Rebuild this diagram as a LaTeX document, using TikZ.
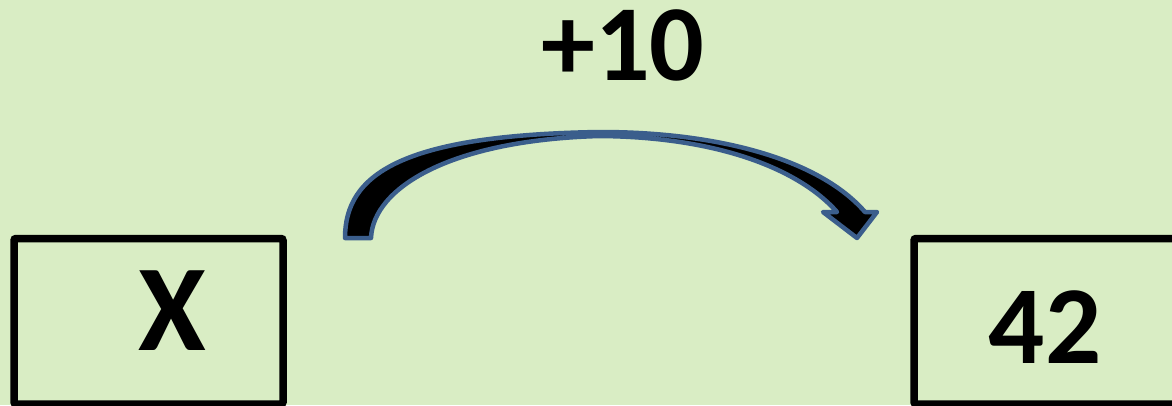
\documentclass[tikz,border=0pt]{standalone}
\usepackage{fontspec}
\setmainfont{Carlito}
\definecolor{bgc}{HTML}{D9EDC4}
\definecolor{arrowblue}{HTML}{3B5E8C}
\begin{document}
\begin{tikzpicture}[x=1pt,y=-1pt,
  valbox/.style={draw=black,line width=7.5pt,rounded corners=2pt},
  bigtxt/.style={anchor=base,inner sep=0pt,font=\bfseries},
  curvearrow/.style={fill=black,draw=arrowblue,line width=4.5pt,line join=round}]
\useasboundingbox (0,0) rectangle (1172,405);
\fill[bgc] (0,0) rectangle (1172,405);
% boxes
\draw[valbox] (14,238.5) rectangle (283,404);
\draw[valbox] (914,238.5) rectangle (1185,404);
\coordinate (lbox) at (148,321);
\coordinate (rbox) at (1043,321);
% texts
\node[bigtxt,font=\bfseries\fontsize{123}{123}\selectfont] (x) at (172,350) {X};
\node[bigtxt,font=\bfseries\fontsize{111}{111}\selectfont] (v) at (1045,363) {42};
\node[bigtxt,font=\bfseries\fontsize{108}{108}\selectfont] (op) at (623,80) {+10};
% curved arrow
\draw[curvearrow]
  (345,238) -- (371,238)
  .. controls (373,188) and (450,140) .. (600,136)
  .. controls (720,137) and (800,170) .. (837,212)
  -- (823,212) -- (857,238) -- (877,212) -- (865,212)
  .. controls (820,160) and (720,132) .. (600,132)
  .. controls (400,135) and (345,175) .. (345,238) -- cycle;
\end{tikzpicture}
\end{document}
